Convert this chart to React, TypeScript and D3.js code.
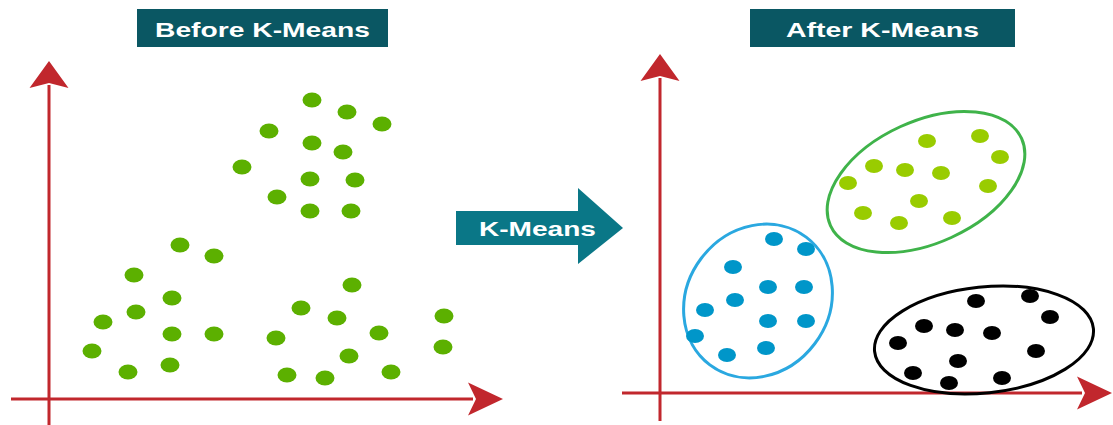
import * as d3 from 'd3';
import { useEffect, useRef } from 'react';

// points, in px units from each panel's axis origin
const beforePoints = [
  [263, 299], [298, 287], [333, 275], [220, 268], [263, 256], [294, 247],
  [193, 232], [261, 220], [306, 219], [228, 202], [261, 188], [302, 188],
  [131, 154], [165, 143], [85, 124], [303, 114], [123, 101], [252, 91],
  [87, 87], [54, 77], [288, 81], [395, 83], [123, 65], [165, 65],
  [330, 66], [227, 61], [43, 48], [394, 52], [300, 43], [121, 34],
  [79, 27], [238, 24], [276, 21], [342, 27],
];

const blueCluster = [
  [114, 154], [146, 144], [73, 126], [108, 106], [144, 106], [75, 93],
  [45, 83], [108, 72], [146, 72], [35, 57], [106, 45], [67, 38],
];

const greenCluster = [
  [267, 252], [320, 257], [340, 236], [214, 227], [245, 223], [281, 220],
  [188, 210], [328, 207], [259, 192], [203, 180], [239, 170], [292, 175],
];

const blackCluster = [
  [316, 92], [370, 97], [390, 76], [264, 67], [295, 63], [332, 60],
  [238, 50], [376, 42], [298, 32], [253, 20], [289, 10], [342, 15],
];

// cluster outlines: centre x, centre y, rx, ry, rotation
const clusterShapes = [
  { name: 'green', cx: 266, cy: 211, rx: 105, ry: 61, rot: -24.5 },
  { name: 'blue', cx: 98, cy: 92, rx: 80, ry: 71, rot: -53 },
  { name: 'black', cx: 324, cy: 53, rx: 110, ry: 53, rot: -6 },
];

const titles = ['Before K-Means', 'After K-Means'];
const arrowLabel = 'K-Means';

const axisRed = '#c1272d';
const titleFill = '#0a5763';
const arrowFill = '#0a7787';
const fontFamily = '"Liberation Sans", Arial, sans-serif';

const App = () => {
  const svgRef = useRef<SVGSVGElement>(null);

  useEffect(() => {
    const width = 1113;
    const height = 425;
    const svg = d3.select(svgRef.current);
    svg.selectAll('*').remove();
    svg.attr('width', width).attr('height', height).attr('viewBox', [0, 0, width, height]);

    // one px per unit, origin at each panel's axis crossing
    const leftX = d3.scaleLinear([0, 450], [49, 499]);
    const leftY = d3.scaleLinear([0, 340], [399, 59]);
    const rightX = d3.scaleLinear([0, 450], [660, 1110]);
    const rightY = d3.scaleLinear([0, 340], [393, 53]);

    const drawAxes = (xs, ys, yTop, xRight, xLeft, yBottom) => {
      const ox = xs(0);
      const oy = ys(0);
      const g = svg.append('g');
      g.append('line')
        .attr('x1', ox).attr('x2', ox)
        .attr('y1', yTop + 24).attr('y2', yBottom)
        .attr('stroke', axisRed).attr('stroke-width', 3);
      g.append('line')
        .attr('x1', xLeft).attr('x2', xRight - 30)
        .attr('y1', oy).attr('y2', oy)
        .attr('stroke', axisRed).attr('stroke-width', 3);
      // arrow heads
      g.append('path')
        .attr('d', `M${ox},${yTop} L${ox + 19.5},${yTop + 27} L${ox},${yTop + 22} L${ox - 19.5},${yTop + 27} Z`)
        .attr('fill', axisRed);
      g.append('path')
        .attr('d', `M${xRight},${oy} L${xRight - 35},${oy + 16.5} L${xRight - 27},${oy} L${xRight - 35},${oy - 16.5} Z`)
        .attr('fill', axisRed);
    };

    drawAxes(leftX, leftY, 61, 503, 11, 425);
    drawAxes(rightX, rightY, 54, 1112, 622, 421);

    const drawTitle = (label, x, w, textW) => {
      svg.append('rect')
        .attr('x', x).attr('y', 9).attr('width', w).attr('height', 38)
        .attr('fill', titleFill);
      svg.append('text')
        .attr('x', x + w / 2).attr('y', 36.5)
        .attr('text-anchor', 'middle')
        .attr('font-family', fontFamily)
        .attr('font-weight', 'bold')
        .attr('font-size', 21)
        .attr('fill', '#fff')
        .attr('textLength', textW)
        .attr('lengthAdjust', 'spacingAndGlyphs')
        .text(label);
    };
    drawTitle(titles[0], 137, 251, 215);
    drawTitle(titles[1], 750, 265, 193);

    // middle arrow
    svg.append('path')
      .attr('d', 'M456,211 L578,211 L578,188 L623,228 L578,264 L578,245 L456,245 Z')
      .attr('fill', arrowFill);
    svg.append('text')
      .attr('x', 537.5).attr('y', 236)
      .attr('text-anchor', 'middle')
      .attr('font-family', fontFamily)
      .attr('font-weight', 'bold')
      .attr('font-size', 21)
      .attr('fill', '#fff')
      .attr('textLength', 117)
      .attr('lengthAdjust', 'spacingAndGlyphs')
      .text(arrowLabel);

    // before: all points one colour
    svg.append('g')
      .selectAll('ellipse')
      .data(beforePoints)
      .join('ellipse')
      .attr('cx', (d) => leftX(d[0]))
      .attr('cy', (d) => leftY(d[1]))
      .attr('rx', 9.5)
      .attr('ry', 7.5)
      .attr('fill', '#5cb000');

    // after: cluster outlines then points
    const outlineColor = { green: '#3fb34a', blue: '#2aa8e0', black: '#000' };
    svg.append('g')
      .selectAll('ellipse')
      .data(clusterShapes)
      .join('ellipse')
      .attr('transform', (d) => `translate(${rightX(d.cx)},${rightY(d.cy)}) rotate(${d.rot})`)
      .attr('rx', (d) => d.rx)
      .attr('ry', (d) => d.ry)
      .attr('fill', 'none')
      .attr('stroke', (d) => outlineColor[d.name])
      .attr('stroke-width', 3);

    const clusters = [
      { pts: blueCluster, color: '#0096c9' },
      { pts: greenCluster, color: '#99cc00' },
      { pts: blackCluster, color: '#000' },
    ];
    clusters.forEach((c) => {
      svg.append('g')
        .selectAll('ellipse')
        .data(c.pts)
        .join('ellipse')
        .attr('cx', (d) => rightX(d[0]))
        .attr('cy', (d) => rightY(d[1]))
        .attr('rx', 9)
        .attr('ry', 7)
        .attr('fill', c.color);
    });
  }, []);

  return (
    <svg ref={svgRef} style={{ position: 'absolute', left: 0, top: 0, background: '#fff' }} />
  );
};

export default App;
